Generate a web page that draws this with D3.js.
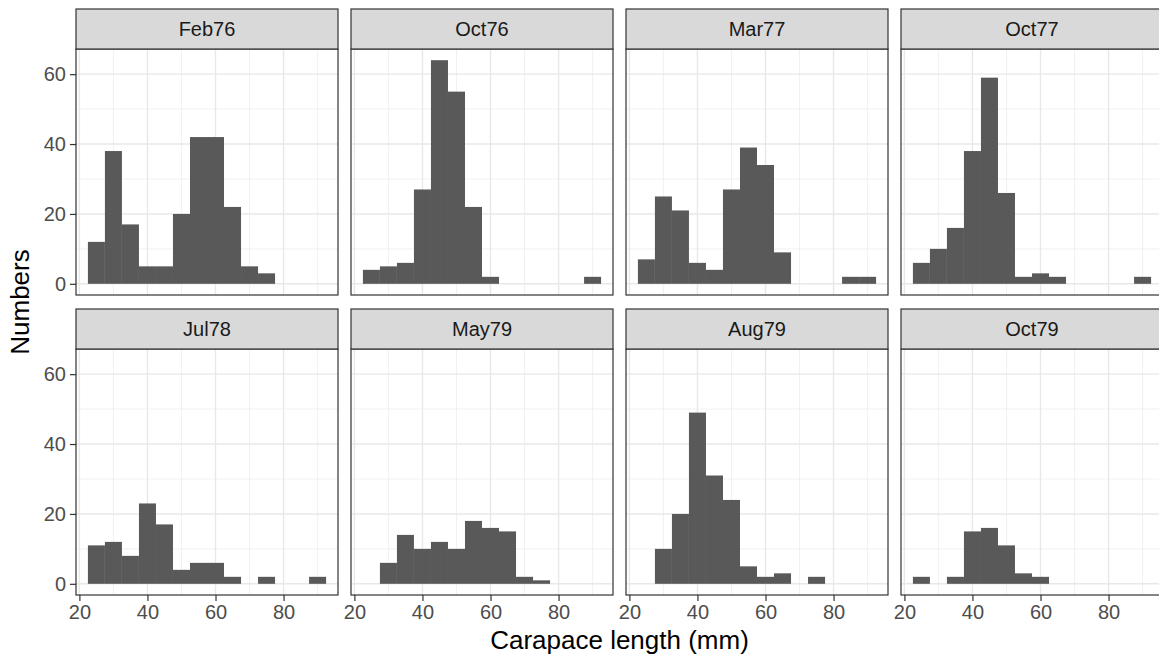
<!DOCTYPE html>
<html>
<head>
<meta charset="utf-8">
<script src="https://cdn.jsdelivr.net/npm/d3@7"></script>
<style>
  body { margin: 0; background: #fff; }
  svg { display: block; font-family: Arial, "Liberation Sans", sans-serif; }
</style>
</head>
<body>
<div id="chart"></div>
<script>
// Histogram bins: width 5, first bin starts at 22.5
const binStart = 22.5;
const binWidth = 5;

const panels = ['Feb76', 'Oct76', 'Mar77', 'Oct77', 'Jul78', 'May79', 'Aug79', 'Oct79'];

const feb76 = [12, 38, 17, 5, 5, 20, 42, 42, 22, 5, 3, 0, 0, 0];
const oct76 = [4, 5, 6, 27, 64, 55, 22, 2, 0, 0, 0, 0, 0, 2];
const mar77 = [7, 25, 21, 6, 4, 27, 39, 34, 9, 0, 0, 0, 2, 2];
const oct77 = [6, 10, 16, 38, 59, 26, 2, 3, 2, 0, 0, 0, 0, 2];
const jul78 = [11, 12, 8, 23, 17, 4, 6, 6, 2, 0, 2, 0, 0, 2];
const may79 = [0, 6, 14, 10, 12, 10, 18, 16, 15, 2, 1, 0, 0, 0];
const aug79 = [0, 10, 20, 49, 31, 24, 5, 2, 3, 0, 2, 0, 0, 0];
const oct79 = [2, 0, 2, 15, 16, 11, 3, 2, 0, 0, 0, 0, 0, 0];

const counts = [feb76, oct76, mar77, oct77, jul78, may79, aug79, oct79];

const xMajor = [20, 40, 60, 80];
const xMinor = [30, 50, 70, 90];
const yMajor = [0, 20, 40, 60];
const yMinor = [10, 30, 50];

const xTitle = 'Carapace length (mm)';
const yTitle = 'Numbers';

function renderChart(containerSelector) {
  const W = 1159, H = 659;
  const svg = d3.select(containerSelector).append('svg')
    .attr('width', W).attr('height', H);

  const colLeft = [76, 351, 626, 901];
  const panelW = 262;
  const rowTop = [9, 309];
  const stripH = 40;
  const plotH = 246;

  const x = d3.scaleLinear().domain([19, 96]).range([0, panelW]);
  const y = d3.scaleLinear().domain([-3.2, 67.2]).range([plotH, 0]);

  panels.forEach((name, i) => {
    const col = i % 4, row = Math.floor(i / 4);
    const g = svg.append('g')
      .attr('transform', `translate(${colLeft[col]},${rowTop[row] + stripH})`);

    // grid
    g.selectAll('line.ymin').data(yMinor).join('line')
      .attr('x1', 0).attr('x2', panelW)
      .attr('y1', d => y(d)).attr('y2', d => y(d))
      .attr('stroke', '#EBEBEB').attr('stroke-width', 0.7);
    g.selectAll('line.xmin').data(xMinor).join('line')
      .attr('y1', 0).attr('y2', plotH)
      .attr('x1', d => x(d)).attr('x2', d => x(d))
      .attr('stroke', '#EBEBEB').attr('stroke-width', 0.7);
    g.selectAll('line.ymaj').data(yMajor).join('line')
      .attr('x1', 0).attr('x2', panelW)
      .attr('y1', d => y(d)).attr('y2', d => y(d))
      .attr('stroke', '#E8E8E8').attr('stroke-width', 1.4);
    g.selectAll('line.xmaj').data(xMajor).join('line')
      .attr('y1', 0).attr('y2', plotH)
      .attr('x1', d => x(d)).attr('x2', d => x(d))
      .attr('stroke', '#E8E8E8').attr('stroke-width', 1.4);

    // bars
    const bins = counts[i].map((c, k) => ({ x0: binStart + k * binWidth, n: c })).filter(d => d.n > 0);
    g.selectAll('rect.bar').data(bins).join('rect')
      .attr('x', d => x(d.x0))
      .attr('width', d => x(d.x0 + binWidth) - x(d.x0))
      .attr('y', d => y(d.n))
      .attr('height', d => y(0) - y(d.n))
      .attr('fill', '#595959');

    // panel border
    g.append('rect')
      .attr('width', panelW).attr('height', plotH)
      .attr('fill', 'none').attr('stroke', '#333333').attr('stroke-width', 1.2);

    // strip
    const s = svg.append('g')
      .attr('transform', `translate(${colLeft[col]},${rowTop[row]})`);
    s.append('rect')
      .attr('width', panelW).attr('height', stripH)
      .attr('fill', '#D9D9D9').attr('stroke', '#333333').attr('stroke-width', 1.2);
    s.append('text')
      .attr('x', panelW / 2).attr('y', stripH / 2)
      .attr('dy', '0.36em')
      .attr('text-anchor', 'middle')
      .attr('fill', '#1A1A1A')
      .style('font-size', '20px')
      .text(name);

    // y axis on first column
    if (col === 0) {
      const ax = g.append('g').call(d3.axisLeft(y).tickValues(yMajor).tickSize(6).tickPadding(4));
      ax.select('.domain').remove();
      ax.selectAll('line').attr('stroke', '#333333').attr('stroke-width', 1.2);
      ax.selectAll('text').attr('fill', '#4D4D4D').style('font-size', '20px')
        .style('font-family', 'Arial, "Liberation Sans", sans-serif');
    }
    // x axis on bottom row
    if (row === 1) {
      const ax = g.append('g').attr('transform', `translate(0,${plotH})`)
        .call(d3.axisBottom(x).tickValues(xMajor).tickSize(6).tickPadding(4));
      ax.select('.domain').remove();
      ax.selectAll('line').attr('stroke', '#333333').attr('stroke-width', 1.2);
      ax.selectAll('text').attr('fill', '#4D4D4D').style('font-size', '20px')
        .style('font-family', 'Arial, "Liberation Sans", sans-serif');
    }
  });

  svg.append('text')
    .attr('x', (colLeft[0] + colLeft[3] + panelW) / 2).attr('y', 649)
    .attr('text-anchor', 'middle')
    .style('font-size', '26px')
    .text(xTitle);

  svg.append('text')
    .attr('transform', 'rotate(-90)')
    .attr('x', -(rowTop[0] + rowTop[1] + stripH + plotH) / 2).attr('y', 29)
    .attr('text-anchor', 'middle')
    .style('font-size', '26px')
    .text(yTitle);
}

renderChart('#chart');
</script>
</body>
</html>
